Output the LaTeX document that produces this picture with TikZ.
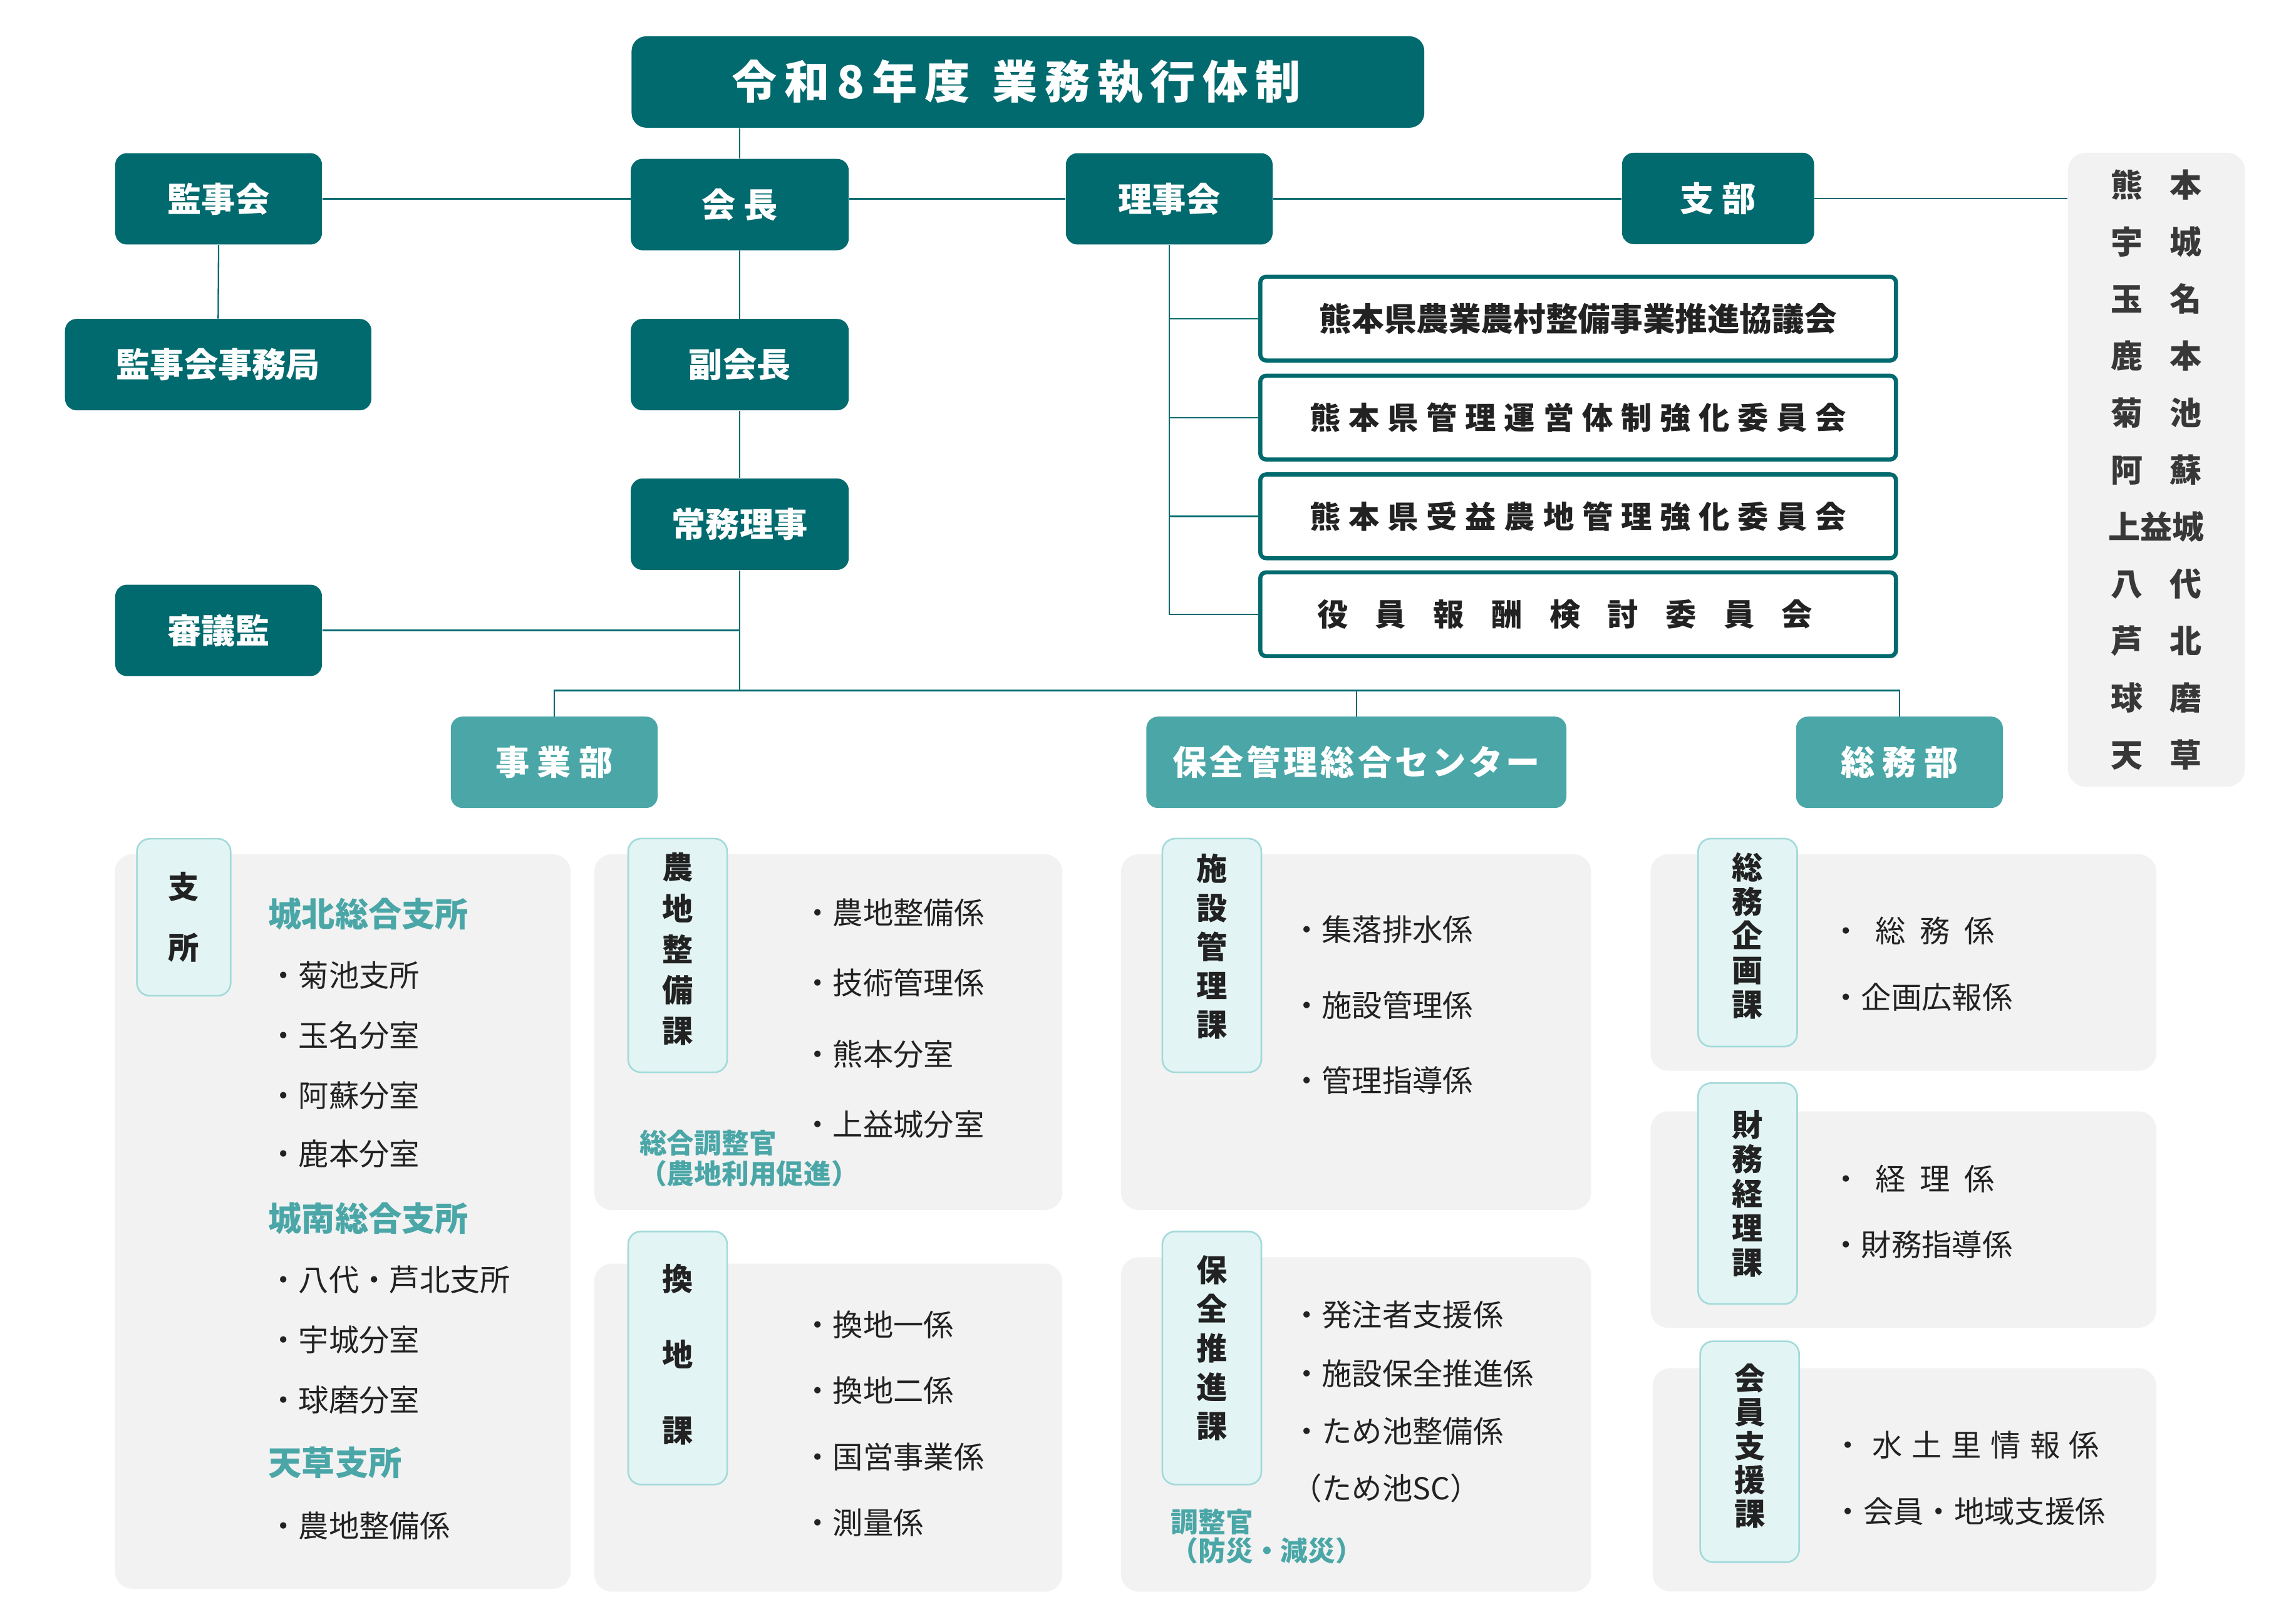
\documentclass[tikz,border=0pt]{standalone}
\usepackage{fontspec}
\setmainfont{Noto Sans CJK JP}
\definecolor{orgteal}{HTML}{006A6E}
\definecolor{deptteal}{HTML}{4AA6A7}
\definecolor{tagfill}{HTML}{E3F4F4}
\definecolor{tagline}{HTML}{A3DADA}
\definecolor{panelgray}{HTML}{F2F2F2}
\definecolor{inkdark}{HTML}{222222}
\newcommand\brgap{\hspace{.85em}}
\tikzset{
  orgbox/.style={fill=orgteal, text=white, rounded corners=0.2cm, inner sep=0pt,
    minimum height=1.56cm, font=\fontsize{16.5}{16.5}\selectfont\bfseries},
  deptbox/.style={orgbox, fill=deptteal},
  cttebox/.style={draw=orgteal, line width=2pt, fill=white, rounded corners=0.1cm,
    inner sep=0pt, minimum width=10.85cm, minimum height=1.43cm, text=inkdark,
    font=\fontsize{15}{15}\selectfont\bfseries},
  listbox/.style={fill=panelgray, rounded corners=0.3cm, inner sep=0pt,
    minimum width=3.02cm, minimum height=10.82cm, align=center, text=inkdark!90,
    font=\fontsize{15.5}{27.7}\selectfont\bfseries},
  panel/.style={fill=panelgray, rounded corners=0.3cm},
  tagbox/.style={fill=tagfill, draw=tagline, line width=0.8pt, rounded corners=0.22cm,
    inner sep=0pt, align=center, minimum width=1.69cm, text=inkdark,
    font=\fontsize{15}{#1}\selectfont\bfseries},
  item/.style={anchor=west, inner sep=0pt, text=inkdark,
    font=\fontsize{14.7}{14.7}\selectfont},
  subhead/.style={anchor=west, inner sep=0pt, text=deptteal,
    font=\fontsize{16.2}{16.2}\selectfont\bfseries},
  note/.style={anchor=west, inner sep=0pt, align=left, text=deptteal,
    font=\fontsize{13.3}{#1}\selectfont\bfseries},
  link/.style={draw=orgteal, line width=0.7pt}
}
\begin{document}
\begin{tikzpicture}[x=0.025cm,y=-0.025cm]
\useasboundingbox (0,0) rectangle (1568,1109);

% top of the chart
\node[orgbox, minimum width=13.53cm, rounded corners=0.25cm,
  font=\fontsize{22}{22}\selectfont\bfseries] (title) at (702,56)
  {\spaceskip=.16em 令 和 8 年 度\hspace{.5em}業 務 執 行 体 制\kern.4cm};
\node[orgbox, minimum width=3.53cm] (kanji) at (149.3,135.8) {監事会};
\node[orgbox, minimum width=3.72cm] (kaicho) at (505.2,139.7) {会 長};
\node[orgbox, minimum width=3.53cm] (rijikai) at (798.5,135.8) {理事会};
\node[orgbox, minimum width=3.28cm] (shibu) at (1173.3,135.5) {支 部};
\node[orgbox, minimum width=5.23cm] (kanjijim) at (149,249) {監事会事務局};
\node[orgbox, minimum width=3.72cm] (fuku) at (505.2,249) {副会長};
\node[orgbox, minimum width=3.72cm] (jomu) at (505.2,358) {常務理事};
\node[orgbox, minimum width=3.53cm] (shingi) at (149.3,430.5) {審議監};

\node[listbox] (branches) at (1472.7,320.8)
  {熊\brgap 本\\宇\brgap 城\\玉\brgap 名\\鹿\brgap 本\\菊\brgap 池\\阿\brgap 蘇\\上益城\\八\brgap 代\\芦\brgap 北\\球\brgap 磨\\天\brgap 草};

% committees under the board
\node[cttebox, font=\fontsize{15.7}{15.7}\selectfont\bfseries] (c1) at (1077.75,217.6)
  {熊本県農業農村整備事業推進協議会};
\node[cttebox] (c2) at (1077.75,285.2) {\spaceskip=.26em 熊 本 県 管 理 運 営 体 制 強 化 委 員 会};
\node[cttebox] (c3) at (1077.75,352.6) {\spaceskip=.26em 熊 本 県 受 益 農 地 管 理 強 化 委 員 会};
\node[cttebox] (c4) at (1077.75,419.5) {\spaceskip=.88em 役 員 報 酬 検 討 委 員 会\kern.45cm};

% departments
\node[deptbox, minimum width=3.53cm] (jigyo) at (378.5,520.6) {事 業 部};
\node[deptbox, minimum width=7.17cm] (hozen) at (926.3,520.6) {\spaceskip=.09em 保 全 管 理 総 合 セ ン タ ー};
\node[deptbox, minimum width=3.53cm] (somu) at (1297.2,520.6) {総 務 部};
\coordinate (bus) at (505.2,471.6);

% connectors
\draw[link] (kaicho.north) -- (kaicho.north |- title.south);
\draw[link] (kanji.east) -- (kanji.east -| kaicho.west);
\draw[link] (rijikai.west) -- (rijikai.west -| kaicho.east);
\draw[link] (rijikai.east) -- (rijikai.east -| shibu.west);
\draw[link] (shibu.east) -- (shibu.east -| branches.west);
\draw[link] (kanji.south) -- (kanjijim.north);
\draw[link] (kaicho.south) -- (fuku.north);
\draw[link] (fuku.south) -- (jomu.north);
\draw[link] (shingi.east) -- (shingi.east -| jomu.south);
\draw[link] (jomu.south) -- (bus);
\draw[link] (jigyo.north) |- (bus) -| (somu.north);
\draw[link] (hozen.north) -- (hozen.north |- bus);
\draw[link] (rijikai.south) |- (c1.west);
\draw[link] (rijikai.south) |- (c2.west);
\draw[link] (rijikai.south) |- (c3.west);
\draw[link] (rijikai.south) |- (c4.west);

% lower panels
\fill[panel] (78.4,583.4) rectangle (389.7,1085);
\fill[panel] (405.8,583.4) rectangle (725.5,826.3);
\fill[panel] (405.8,863) rectangle (725.5,1087);
\fill[panel] (765.6,583.4) rectangle (1086.6,826.3);
\fill[panel] (765.6,858.6) rectangle (1086.6,1087);
\fill[panel] (1127.2,583.4) rectangle (1472.6,731.2);
\fill[panel] (1127.2,759) rectangle (1472.6,906.8);
\fill[panel] (1128.6,934.4) rectangle (1472.6,1086.8);

\node[tagbox=29.6pt, minimum width=1.6cm, minimum height=2.68cm] (tshisho) at (125.5,626.4) {支\\所};
\node[tagbox=19.85pt, minimum height=3.99cm, text depth=7.5pt] (tnochi) at (462.8,652.5) {農\\地\\整\\備\\課};
\node[tagbox=36.8pt, minimum height=4.32cm, text depth=5pt] (tkanchi) at (462.8,927.4) {換\\地\\課};
\node[tagbox=18.9pt, minimum height=3.99cm, text depth=10pt] (tshisetsu) at (827.6,652.5) {施\\設\\管\\理\\課};
\node[tagbox=18.95pt, minimum height=4.32cm, text depth=11pt] (thozen) at (827.6,927.4) {保\\全\\推\\進\\課};
\node[tagbox=16.7pt, minimum height=3.55cm, text depth=8pt] (tsomu) at (1193.5,643.7) {総\\務\\企\\画\\課};
\node[tagbox=16.7pt, minimum height=3.77cm] (tzaimu) at (1193.5,815.1) {財\\務\\経\\理\\課};
\node[tagbox=16.4pt, minimum height=3.77cm, text depth=7pt] (tkaiin) at (1194.9,991.4) {会\\員\\支\\援\\課};

% branch offices
\node[subhead] (johoku) at (183,624) {城北総合支所};
\node[item] (kikuchi) at (183,666) {・菊池支所};
\node[item] (tamana) at (183,707) {・玉名分室};
\node[item] (aso) at (183,748) {・阿蘇分室};
\node[item] (kamoto) at (183,788) {・鹿本分室};
\node[subhead] (jonan) at (183,832) {城南総合支所};
\node[item] (yatsushiro) at (183,874) {・八代・芦北支所};
\node[item] (uki) at (183,915) {・宇城分室};
\node[item] (kuma) at (183,956) {・球磨分室};
\node[subhead] (amakusa) at (183,999) {天草支所};
\node[item] (amanochi) at (183,1042) {・農地整備係};

% jigyo sections
\node[item] (nochi1) at (547.8,623.4) {・農地整備係};
\node[item] (nochi2) at (547.8,671.3) {・技術管理係};
\node[item] (nochi3) at (547.8,719.8) {・熊本分室};
\node[item] (nochi4) at (547.8,768) {・上益城分室};
\node[note=15pt] (nochinote) at (436.5,791.2) {総合調整官\\（農地利用促進）};
\node[item] (kanchi1) at (547.8,904.6) {・換地一係};
\node[item] (kanchi2) at (547.8,949.5) {・換地二係};
\node[item] (kanchi3) at (547.8,995) {・国営事業係};
\node[item] (kanchi4) at (547.8,1040) {・測量係};

% hozen sections
\node[item] (shisetsu1) at (881.8,634.8) {・集落排水係};
\node[item] (shisetsu2) at (881.8,686.5) {・施設管理係};
\node[item] (shisetsu3) at (881.8,737.9) {・管理指導係};
\node[item] (hozen1) at (881.8,898) {・発注者支援係};
\node[item] (hozen2) at (881.8,938) {・施設保全推進係};
\node[item] (hozen3) at (881.8,977.3) {・ため池整備係};
\node[item] (hozen4) at (881.8,1016.3) {（ため池SC）};
\node[note=13.9pt] (hozennote) at (799.5,1049.2) {調整官\\（防災・減災）};

% somu sections
\node[item] (somu1) at (1250.2,635.8) {\spaceskip=.47em ・ 総 務 係};
\node[item] (somu2) at (1250.2,681) {・企画広報係};
\node[item] (zaimu1) at (1250.2,805) {\spaceskip=.47em ・ 経 理 係};
\node[item] (zaimu2) at (1250.2,849.7) {・財務指導係};
\node[item] (kaiin1) at (1251.6,987) {\spaceskip=.3em ・ 水 土 里 情 報 係};
\node[item] (kaiin2) at (1251.6,1032) {・会員・地域支援係};
\end{tikzpicture}
\end{document}
